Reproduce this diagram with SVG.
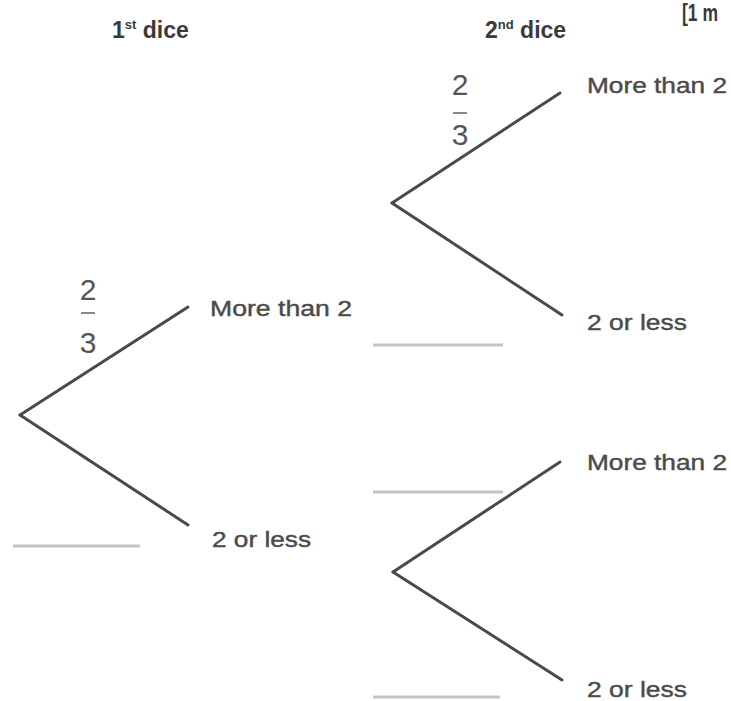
<svg xmlns="http://www.w3.org/2000/svg" width="731" height="701" viewBox="0 0 731 701">
<style>
.t{font-family:"Liberation Sans",Arial,sans-serif;fill:#4a4a4a;font-size:22px;stroke:#4a4a4a;stroke-width:0.4}
.h{font-family:"Liberation Sans",Arial,sans-serif;fill:#3a3a3a;font-size:23px;font-weight:bold}
.f{font-family:"Liberation Sans",Arial,sans-serif;fill:#555;font-size:30px;text-anchor:middle}
.br{stroke:#4a4a4a;stroke-width:3;fill:none;stroke-linecap:round}
.bl{stroke:#c4c4c4;stroke-width:3}
.fb{stroke:#888;stroke-width:2}
</style>
<rect width="731" height="701" fill="#fff"/>
<g id="headers">
<text class="h" x="112" y="38">1<tspan font-size="13" dy="-9">st</tspan><tspan dy="9"> dice</tspan></text>
<text class="h" x="485" y="38">2<tspan font-size="13" dy="-9">nd</tspan><tspan dy="9"> dice</tspan></text>
<text class="h" x="682" y="21" font-size="17" textLength="36" lengthAdjust="spacingAndGlyphs">[1 m</text>
</g>
<g id="connectors">
<line class="br" x1="20" y1="415" x2="188" y2="307"/>
<line class="br" x1="20" y1="415" x2="188" y2="525"/>
<line class="br" x1="392" y1="203" x2="560" y2="93"/>
<line class="br" x1="392" y1="203" x2="562" y2="315"/>
<line class="br" x1="393" y1="572" x2="560" y2="462"/>
<line class="br" x1="393" y1="572" x2="562" y2="680"/>
</g>
<g id="node-first-more">
<text class="f" x="88" y="300">2</text>
<line class="fb" x1="81" y1="313" x2="95" y2="313"/>
<text class="f" x="88" y="353">3</text>
<text class="t" x="210" y="316" textLength="142" lengthAdjust="spacingAndGlyphs">More than 2</text>
</g>
<g id="node-first-less">
<line class="bl" x1="13" y1="546" x2="140" y2="546"/>
<text class="t" x="212" y="547" textLength="99" lengthAdjust="spacingAndGlyphs">2 or less</text>
</g>
<g id="node-second-more-more">
<text class="f" x="460" y="95">2</text>
<line class="fb" x1="453" y1="113" x2="467" y2="113"/>
<text class="f" x="460" y="145">3</text>
<text class="t" x="587" y="93" textLength="140" lengthAdjust="spacingAndGlyphs">More than 2</text>
</g>
<g id="node-second-more-less">
<line class="bl" x1="373" y1="345" x2="503" y2="345"/>
<text class="t" x="587" y="330" textLength="100" lengthAdjust="spacingAndGlyphs">2 or less</text>
</g>
<g id="node-second-less-more">
<line class="bl" x1="373" y1="492" x2="503" y2="492"/>
<text class="t" x="587" y="470" textLength="140" lengthAdjust="spacingAndGlyphs">More than 2</text>
</g>
<g id="node-second-less-less">
<line class="bl" x1="373" y1="697" x2="500" y2="697"/>
<text class="t" x="587" y="697" textLength="100" lengthAdjust="spacingAndGlyphs">2 or less</text>
</g>
</svg>
